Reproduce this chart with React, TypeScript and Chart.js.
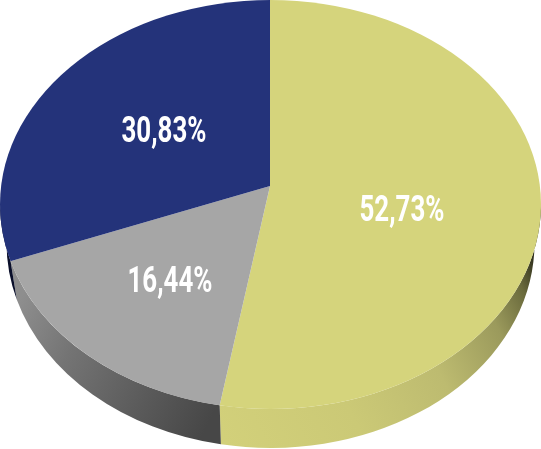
import { useEffect, useRef } from "react";
import { Chart, registerables } from "chart.js";

Chart.register(...registerables);

const categories = ["A", "B", "C"];
const shares = [52.73, 16.44, 30.83];
const faceColors = ["#D5D47C", "#A6A6A6", "#24337A"];
const wallStops: [number, string][][] = [
  [[0, "#D2D07A"], [0.35, "#CBC976"], [0.62, "#BDBB70"], [0.82, "#9B9A5C"], [0.93, "#6A6A3C"], [1, "#2E2E1C"]],
  [[0, "#8E8E8E"], [0.3, "#747474"], [0.7, "#5A5A5A"], [1, "#474747"]],
  [[0, "#0A0F2A"], [1, "#0A0F2A"]],
];
const wallGradients = [
  [219, 430, 541, 270],
  [20, 300, 220, 400],
  [0, 0, 10, 0],
];
const labelPositions = [
  [402, 208],
  [170, 279.5],
  [164, 129.5],
];

const TOP = { x: 270.5, y: 204.5, rx: 270.5, ry: 204.5 };
const BOTTOM = { x: 270.5, y: 243, rx: 264, ry: 205 };
const SQUASH = 0.755;

// Angle on the top ellipse where a wedge edge leaving the pie centre meets the rim.
function rimAngle(cx: number, cy: number, a: number) {
  const dx = Math.cos(a);
  const dy = SQUASH * Math.sin(a);
  const ox = (cx - TOP.x) / TOP.rx;
  const oy = (cy - TOP.y) / TOP.ry;
  const ux = dx / TOP.rx;
  const uy = dy / TOP.ry;
  const A = ux * ux + uy * uy;
  const B = 2 * (ox * ux + oy * uy);
  const C = ox * ox + oy * oy - 1;
  const s = (-B + Math.sqrt(B * B - 4 * A * C)) / (2 * A);
  return Math.atan2(oy + uy * s, ox + ux * s);
}

const pie3d = {
  id: "pie3d",
  beforeDatasetsDraw(chart: any) {
    const ctx = chart.ctx;
    const arcs = chart.getDatasetMeta(0).data;
    arcs.forEach((arc: any, i: number) => {
      let t1 = rimAngle(arc.x, arc.y, arc.startAngle);
      let t2 = rimAngle(arc.x, arc.y, arc.endAngle);
      if (t2 < t1) t2 += Math.PI * 2;
      t1 = Math.max(t1, 0);
      t2 = Math.min(t2, Math.PI);
      if (t2 <= t1) return;
      const [gx1, gy1, gx2, gy2] = wallGradients[i];
      const grad = ctx.createLinearGradient(gx1, gy1, gx2, gy2);
      wallStops[i].forEach(([o, c]) => grad.addColorStop(o, c));
      ctx.beginPath();
      ctx.ellipse(TOP.x, TOP.y, TOP.rx, TOP.ry, 0, t1, t2);
      ctx.ellipse(BOTTOM.x, BOTTOM.y, BOTTOM.rx, BOTTOM.ry, 0, t2, t1, true);
      ctx.closePath();
      ctx.fillStyle = grad;
      ctx.fill();
    });
    const c = arcs[0];
    ctx.save();
    ctx.beginPath();
    ctx.ellipse(TOP.x, TOP.y, TOP.rx, TOP.ry, 0, 0, Math.PI * 2);
    ctx.clip();
    ctx.translate(c.x, c.y);
    ctx.scale(1, SQUASH);
    ctx.translate(-c.x, -c.y);
  },
  afterDatasetsDraw(chart: any) {
    const ctx = chart.ctx;
    ctx.restore();
    ctx.save();
    ctx.fillStyle = "#FFFFFF";
    ctx.textAlign = "center";
    ctx.textBaseline = "alphabetic";
    ctx.font = "700 36px Roboto";
    shares.forEach((v, i) => {
      const text = v.toFixed(2).replace(".", ",") + "%";
      const [x, y] = labelPositions[i];
      ctx.save();
      ctx.translate(x, y + 12.5);
      ctx.scale(0.72, 1);
      ctx.fillText(text, 0, 0);
      ctx.restore();
    });
    ctx.restore();
  },
};

export default function App() {
  const ref = useRef<HTMLCanvasElement>(null);
  useEffect(() => {
    const chart = new Chart(ref.current!, {
      type: "pie",
      data: {
        labels: categories,
        datasets: [
          {
            data: shares,
            backgroundColor: faceColors,
            borderWidth: 0,
            radius: 310,
            clip: false,
          } as any,
        ],
      },
      options: {
        responsive: false,
        animation: false,
        layout: { padding: { left: 0, right: 1, top: 0, bottom: 77 } },
        plugins: { legend: { display: false }, tooltip: { enabled: false } },
      },
      plugins: [pie3d],
    });
    return () => chart.destroy();
  }, []);
  return (
    <div style={{ position: "absolute", left: 0, top: 0 }}>
      <canvas ref={ref} width={541} height={449} style={{ display: "block" }} />
    </div>
  );
}
